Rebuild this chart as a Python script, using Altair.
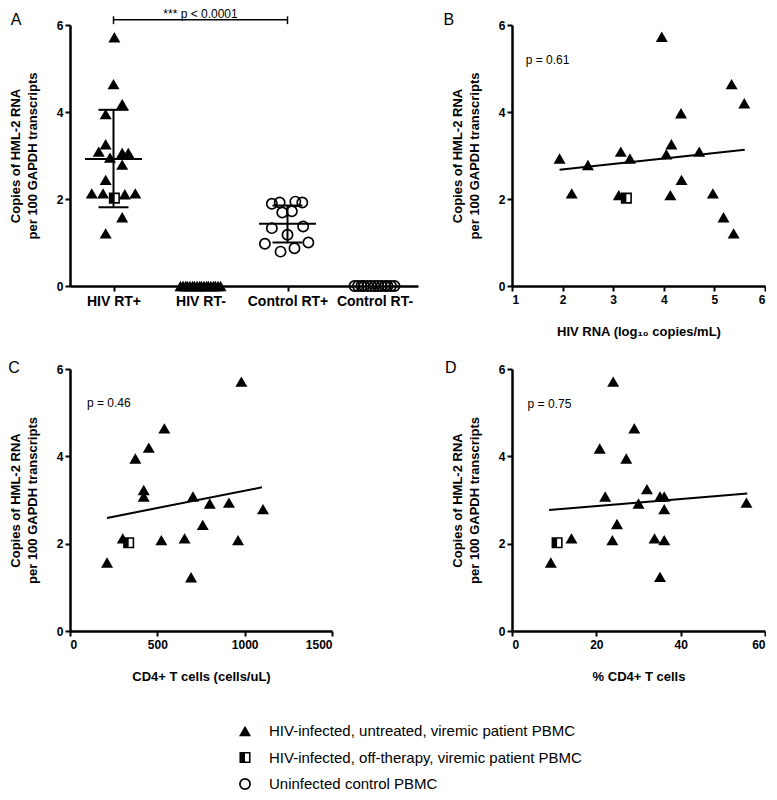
import json
import altair as alt
import pandas as pd

FONT = "Liberation Sans"

# ---------------- Panel A ----------------
categories = ["HIV RT+", "HIV RT-", "Control RT+", "Control RT-"]

a_untreated = [5.72, 4.64, 4.18, 3.95, 3.26, 3.09, 3.06, 3.06, 2.95, 2.79, 2.44, 2.13, 2.13, 2.11, 2.13, 1.58, 1.21]
a_untreated_jitter = [0.01, 0.0, 0.1, -0.09, -0.09, -0.17, 0.1, 0.17, -0.04, 0.1, -0.09, -0.25, -0.12, 0.13, 0.25, 0.1, -0.09]

a_offtherapy = [2.02]
a_offtherapy_jitter = [0.01]

a_hiv_neg = [0, 0, 0, 0, 0, 0, 0, 0, 0, 0, 0, 0, 0, 0, 0, 0, 0, 0]
a_hiv_neg_jitter = [-0.23, -0.2, -0.17, -0.15, -0.12, -0.09, -0.07, -0.04, -0.01,
                    0.01, 0.04, 0.07, 0.09, 0.12, 0.15, 0.17, 0.2, 0.23]

a_control_pos = [1.89, 1.92, 1.94, 1.92, 1.69, 1.72, 1.33, 1.37, 1.18, 0.97, 0.79, 0.87, 1.00]
a_control_pos_jitter = [-0.18, -0.09, 0.09, 0.17, -0.06, 0.05, -0.18, 0.18, 0.0, -0.26, -0.08, 0.08, 0.24]

a_control_neg = [0, 0, 0, 0, 0, 0, 0, 0, 0, 0, 0, 0, 0]
a_control_neg_jitter = [-0.23, -0.19, -0.15, -0.12, -0.08, -0.04, 0.0, 0.04, 0.08, 0.12, 0.15, 0.19, 0.23]

stat_groups = ["HIV RT+", "Control RT+"]
stat_mean = [2.92, 1.43]
stat_sd_low = [1.81, 1.00]
stat_sd_high = [4.05, 1.85]

a_bracket_groups = ["HIV RT+", "Control RT+"]
a_bracket_text = "*** p < 0.0001"

# ---------------- Panel B ----------------
b_hiv_rna = [1.94, 2.18, 2.50, 3.11, 3.15, 3.33, 3.96, 4.05, 4.13, 4.15, 4.34, 4.35, 4.70, 4.97, 5.18, 5.34, 5.38, 5.59]
b_copies = [2.93, 2.13, 2.78, 2.09, 3.09, 2.93, 5.73, 3.03, 2.09, 3.26, 3.97, 2.44, 3.09, 2.13, 1.58, 4.64, 1.21, 4.20]
b_off_x, b_off_y = [3.26], [2.02]
b_fit_x, b_fit_y = [1.94, 5.6], [2.67, 3.13]
b_p = "p = 0.61"

# ---------------- Panel C ----------------
c_cd4 = [212, 302, 374, 422, 422, 451, 523, 540, 656, 693, 704, 760, 800, 910, 962, 981, 1105]
c_copies = [1.57, 2.12, 3.95, 3.23, 3.08, 4.20, 2.08, 4.64, 2.12, 1.23, 3.08, 2.43, 2.92, 2.94, 2.08, 5.71, 2.79]
c_off_x, c_off_y = [336], [2.02]
c_fit_x, c_fit_y = [212, 1099], [2.59, 3.29]
c_p = "p = 0.46"

# ---------------- Panel D ----------------
d_pct = [9.2, 14.1, 20.8, 22.1, 23.8, 24.0, 24.9, 27.1, 29.0, 30.0, 32.0, 33.8, 35.1, 35.1, 36.1, 36.1, 36.1, 55.6]
d_copies = [1.57, 2.12, 4.18, 3.08, 2.08, 5.71, 2.45, 3.95, 4.64, 2.92, 3.25, 2.12, 1.24, 3.08, 3.08, 2.79, 2.08, 2.94]
d_off_x, d_off_y = [10.7], [2.02]
d_fit_x, d_fit_y = [8.8, 55.8], [2.77, 3.15]
d_p = "p = 0.75"

legend_labels = [
    "HIV-infected, untreated, viremic patient PBMC",
    "HIV-infected, off-therapy, viremic patient PBMC",
    "Uninfected control PBMC",
]

Y_TITLE = ["Copies of HML-2 RNA", "per 100 GAPDH transcripts"]
HALF_PATH = "M-1,-1L0,-1L0,1L-1,1Z"

TRI = dict(shape="triangle-up", filled=True, color="black", size=144, opacity=1, strokeWidth=0)
SQ = dict(shape="square", filled=True, fill="white", stroke="black", strokeWidth=1.6, size=90, opacity=1)
HALF = dict(shape=HALF_PATH, filled=True, fill="black", size=90, opacity=1, strokeWidth=0)
CIRC = dict(shape="circle", filled=False, color="black", strokeWidth=1.7, size=105, opacity=1)
TXT = dict(font=FONT, fill="black", color="black")


def y_enc(field="y"):
    return alt.Y(f"{field}:Q", scale=alt.Scale(domain=[0, 6], nice=False, zero=False),
                 axis=alt.Axis(values=[0, 2, 4, 6], title=Y_TITLE, titlePadding=17,
                               titleLineHeight=17))


# ---- Panel A ----
cat_expr = f"indexof({json.dumps(categories)}, datum.group)"

tri_df = pd.DataFrame({
    "group": ["HIV RT+"] * len(a_untreated) + ["HIV RT-"] * len(a_hiv_neg),
    "y": a_untreated + a_hiv_neg,
    "jitter": a_untreated_jitter + a_hiv_neg_jitter,
})
sq_df = pd.DataFrame({"group": ["HIV RT+"], "y": a_offtherapy, "jitter": a_offtherapy_jitter})
circ_df = pd.DataFrame({
    "group": ["Control RT+"] * len(a_control_pos) + ["Control RT-"] * len(a_control_neg),
    "y": a_control_pos + a_control_neg,
    "jitter": a_control_pos_jitter + a_control_neg_jitter,
})
stat_df = pd.DataFrame({"group": stat_groups, "mean": stat_mean, "lo": stat_sd_low, "hi": stat_sd_high})

xA = alt.X("x:Q", scale=alt.Scale(domain=[-0.5, 3.5], nice=False, zero=False),
           axis=alt.Axis(values=[0, 1, 2, 3], labelExpr=f"{json.dumps(categories)}[datum.value]",
                         title=None, labelFontSize=14, labelPadding=3))


def pts_base(df):
    return alt.Chart(df).transform_calculate(x=f"{cat_expr} + datum.jitter")


a_tri = pts_base(tri_df).mark_point(**TRI).encode(x=xA, y=y_enc())
a_sq = pts_base(sq_df).mark_point(**SQ).encode(x=xA, y=y_enc())
a_half = pts_base(sq_df).mark_point(**HALF).encode(x=xA, y=y_enc())
a_circ = pts_base(circ_df).mark_point(**CIRC).encode(x=xA, y=y_enc())

stat_base = alt.Chart(stat_df).transform_calculate(x=cat_expr)
a_mean = stat_base.mark_tick(orient="horizontal", size=57, thickness=2, color="black", opacity=1).encode(
    x=xA, y=alt.Y("mean:Q"))
a_lo = stat_base.mark_tick(orient="horizontal", size=30, thickness=2, color="black", opacity=1).encode(
    x=xA, y=alt.Y("lo:Q"))
a_hi = stat_base.mark_tick(orient="horizontal", size=30, thickness=2, color="black", opacity=1).encode(
    x=xA, y=alt.Y("hi:Q"))
a_sd = stat_base.mark_rule(strokeWidth=2, color="black").encode(x=xA, y=alt.Y("lo:Q"), y2="hi:Q")

# significance bracket (annotation, data units)
br_df = pd.DataFrame({"g1": [a_bracket_groups[0]], "g2": [a_bracket_groups[1]], "yl": [6.12],
                      "ytop": [6.2], "ybot": [6.02], "ytext": [6.16], "t": [a_bracket_text]})
br_base = alt.Chart(br_df).transform_calculate(
    x=f"indexof({json.dumps(categories)}, datum.g1)",
    x2=f"indexof({json.dumps(categories)}, datum.g2)",
    xm="(datum.x + datum.x2) / 2")
a_br_h = br_base.mark_rule(strokeWidth=1.5, color="black").encode(x=xA, x2="x2:Q", y=alt.Y("yl:Q"))
a_br_l = br_base.mark_rule(strokeWidth=1.5, color="black").encode(x=xA, y=alt.Y("ytop:Q"), y2="ybot:Q")
a_br_r = br_base.mark_rule(strokeWidth=1.5, color="black").encode(x=alt.X("x2:Q"), y=alt.Y("ytop:Q"), y2="ybot:Q")
a_br_t = br_base.mark_text(fontSize=12, baseline="alphabetic", align="center", **TXT).encode(
    x=alt.X("xm:Q"), y=alt.Y("ytext:Q"), text="t:N")

a_letter = alt.Chart(pd.DataFrame({"x": [-1.12], "y": [6.11], "t": ["A"]})).mark_text(
    fontSize=16, align="center", baseline="middle", **TXT).encode(x=xA, y=y_enc(), text="t:N")

panel_a = alt.layer(a_tri, a_sq, a_half, a_circ, a_sd, a_mean, a_lo, a_hi,
                    a_br_h, a_br_l, a_br_r, a_br_t, a_letter).properties(width=348, height=261)


# ---- Scatter panels ----
def scatter_panel(xs, ys, ox, oy, fx, fy, ptxt, pxy, letter, lxy, domain, ticks, xtitle, width, height):
    xe = alt.X("x:Q", scale=alt.Scale(domain=domain, nice=False, zero=False),
               axis=alt.Axis(values=ticks, title=xtitle, titlePadding=20, labelPadding=3, format="d"))
    ye = y_enc()
    fit = alt.Chart(pd.DataFrame({"x": fx, "y": fy})).mark_line(color="black", strokeWidth=2).encode(x=xe, y=ye)
    tri = alt.Chart(pd.DataFrame({"x": xs, "y": ys})).mark_point(**TRI).encode(x=xe, y=ye)
    off = pd.DataFrame({"x": ox, "y": oy})
    sq = alt.Chart(off).mark_point(**SQ).encode(x=xe, y=ye)
    half = alt.Chart(off).mark_point(**HALF).encode(x=xe, y=ye)
    ptx = alt.Chart(pd.DataFrame({"x": [pxy[0]], "y": [pxy[1]], "t": [ptxt]})).mark_text(
        fontSize=12, align="left", baseline="middle", **TXT).encode(x=xe, y=ye, text="t:N")
    let = alt.Chart(pd.DataFrame({"x": [lxy[0]], "y": [lxy[1]], "t": [letter]})).mark_text(
        fontSize=16, align="center", baseline="middle", **TXT).encode(x=xe, y=ye, text="t:N")
    return alt.layer(fit, tri, sq, half, ptx, let).properties(width=width, height=height)


panel_b = scatter_panel(b_hiv_rna, b_copies, b_off_x, b_off_y, b_fit_x, b_fit_y, b_p, (1.27, 5.2),
                        "B", (-0.25, 6.11), [1, 6], [1, 2, 3, 4, 5, 6],
                        "HIV RNA (log\u2081\u2080 copies/mL)", 253, 261)
panel_c = scatter_panel(c_cd4, c_copies, c_off_x, c_off_y, c_fit_x, c_fit_y, c_p, (97, 5.22),
                        "C", (-320, 6.02), [0, 1500], [0, 500, 1000, 1500],
                        "CD4+ T cells (cells/uL)", 262, 262)
panel_d = scatter_panel(d_pct, d_copies, d_off_x, d_off_y, d_fit_x, d_fit_y, d_p, (3.7, 5.2),
                        "D", (-14.5, 6.02), [0, 60], [0, 20, 40, 60],
                        "% CD4+ T cells", 253, 262)

# ---- Legend ----
ly = alt.Y("label:N", scale=alt.Scale(type="point", domain=legend_labels, range=[17, 70], padding=0), axis=None)
leg_df = pd.DataFrame({"label": legend_labels})
leg_tri = alt.Chart(pd.DataFrame({"label": [legend_labels[0]]})).mark_point(**TRI).encode(x=alt.value(175), y=ly)
leg_sq = alt.Chart(pd.DataFrame({"label": [legend_labels[1]]})).mark_point(**SQ).encode(x=alt.value(175), y=ly)
leg_half = alt.Chart(pd.DataFrame({"label": [legend_labels[1]]})).mark_point(**HALF).encode(x=alt.value(175), y=ly)
leg_circ = alt.Chart(pd.DataFrame({"label": [legend_labels[2]]})).mark_point(**CIRC).encode(x=alt.value(175), y=ly)
leg_txt = alt.Chart(leg_df).mark_text(fontSize=15, align="left", baseline="middle", **TXT).encode(
    x=alt.value(199), y=ly, text="label:N")
legend = alt.layer(leg_tri, leg_sq, leg_half, leg_circ, leg_txt).properties(width=300, height=60)

chart = alt.concat(
    panel_a, panel_b, panel_c, panel_d, legend,
    columns=2, bounds="flush", spacing=alt.RowColnumber(row=83, column=94),
).properties(padding=0).configure(
    font=FONT
).configure_view(stroke=None).configure_axis(
    grid=False, domainColor="black", domainWidth=2.5, tickColor="black", tickWidth=2, tickSize=5,
    labelFont=FONT, labelFontWeight="bold", labelFontSize=12, labelColor="black", labelPadding=2,
    titleFont=FONT, titleFontWeight="bold", titleFontSize=13, titleColor="black",
)

chart.save("out.html", embed_options={"renderer": "svg", "actions": False})
